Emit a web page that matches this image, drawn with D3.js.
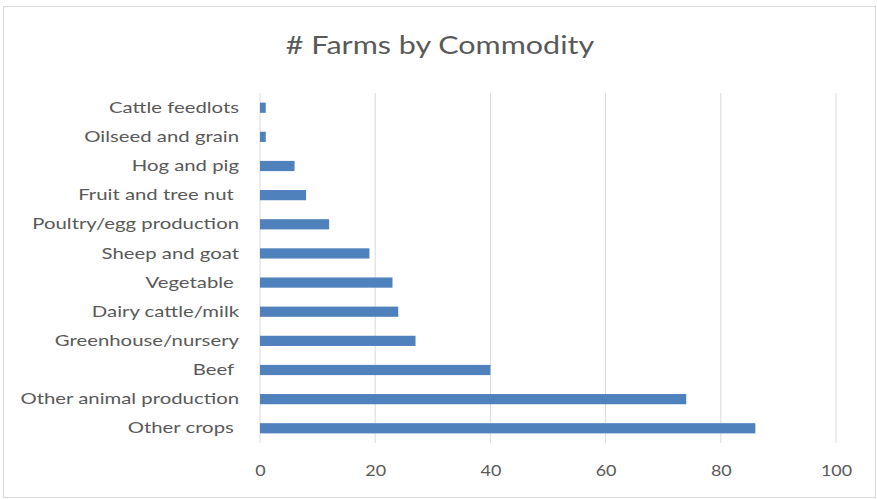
<!DOCTYPE html>
<html>
<head>
<meta charset="utf-8">
<script src="https://cdn.jsdelivr.net/npm/d3@7"></script>
<style>
  body { margin: 0; background: #fff; }
  text { font-family: Lato, "Open Sans", sans-serif; fill: #595959; white-space: pre; }
</style>
</head>
<body>
<div id="chart"></div>
<script>
const categories = ["Cattle feedlots", "Oilseed and grain", "Hog and pig", "Fruit and tree nut ",
  "Poultry/egg production", "Sheep and goat", "Vegetable ", "Dairy cattle/milk",
  "Greenhouse/nursery", "Beef ", "Other animal production", "Other crops "];
const values = [1, 1, 6, 8, 12, 19, 23, 24, 27, 40, 74, 86];
const xTicks = [0, 20, 40, 60, 80, 100];

const width = 877, height = 499;
const margin = { top: 93, right: 41, bottom: 56, left: 260 };

// stretch text sideways a little, the original font is wider than Lato
function widen(sel, k) {
    sel.each(function() {
        const w = this.getComputedTextLength();
        d3.select(this)
            .attr("textLength", w * k)
            .attr("lengthAdjust", "spacingAndGlyphs");
    });
}

const svg = d3.select("#chart").append("svg")
    .attr("width", width)
    .attr("height", height);

// frame
svg.append("rect")
    .attr("x", 3.5).attr("y", 6.5)
    .attr("width", 872).attr("height", 491)
    .attr("fill", "#fff")
    .attr("stroke", "#d9d9d9");

svg.append("text")
    .attr("x", 440).attr("y", 54)
    .attr("text-anchor", "middle")
    .style("font-size", "25px")
    .text("# Farms by Commodity")
    .call(widen, 1.22);

const x = d3.scaleLinear()
    .domain([0, 100])
    .range([margin.left, width - margin.right]);

const y = d3.scaleBand()
    .domain(categories)
    .range([margin.top, height - margin.bottom])
    .paddingInner(0.65)
    .paddingOuter(0.33);

// gridlines
svg.append("g")
    .selectAll("line")
    .data(xTicks)
    .enter().append("line")
    .attr("x1", d => x(d)).attr("x2", d => x(d))
    .attr("y1", margin.top).attr("y2", height - margin.bottom)
    .attr("stroke", "#d9d9d9")
    .attr("stroke-width", 1);

// bars
svg.append("g")
    .selectAll("rect")
    .data(values)
    .enter().append("rect")
    .attr("x", x(0))
    .attr("y", (d, i) => y(categories[i]))
    .attr("width", d => x(d) - x(0))
    .attr("height", y.bandwidth())
    .attr("fill", "#4f81bd");

// x axis
const xAxis = svg.append("g")
    .attr("transform", `translate(0,${height - margin.bottom})`)
    .call(d3.axisBottom(x).tickValues(xTicks).tickSize(0).tickPadding(22));
xAxis.select(".domain").remove();
xAxis.selectAll("text")
    .style("font-size", "16px")
    .style("font-family", "Lato, sans-serif")
    .attr("fill", "#5f5f5f")
    .call(widen, 1.12);

// y axis
const yAxis = svg.append("g")
    .attr("transform", `translate(${margin.left},0)`)
    .call(d3.axisLeft(y).tickSize(0).tickPadding(21));
yAxis.select(".domain").remove();
yAxis.selectAll("text")
    .style("font-size", "16px")
    .style("font-family", "Lato, sans-serif")
    .attr("fill", "#5f5f5f")
    .call(widen, 1.27);
</script>
</body>
</html>
